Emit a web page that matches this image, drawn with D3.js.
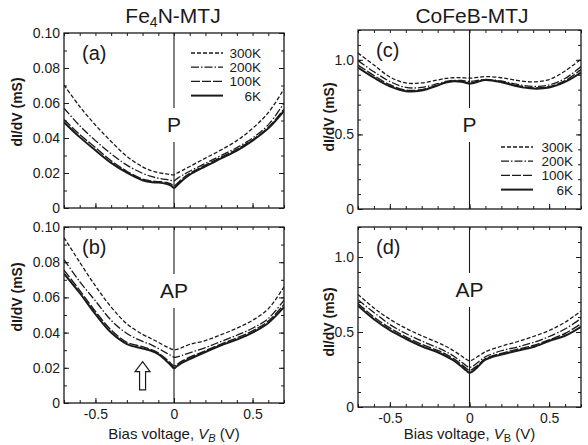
<!DOCTYPE html>
<html>
<head>
<meta charset="utf-8">
<script src="https://cdn.jsdelivr.net/npm/d3@7"></script>
<style>
  body { margin: 0; background: #fff; }
  svg { display: block; }
</style>
</head>
<body>
<svg id="chart" width="588" height="445"></svg>
<script>
// === Data ===
const bias = [-0.7, -0.6, -0.5, -0.4, -0.3, -0.2, -0.15, -0.1, -0.05, -0.02, 0,
              0.02, 0.05, 0.1, 0.2, 0.3, 0.4, 0.5, 0.6, 0.7];
const temps = ["300K", "200K", "100K", "6K"];

// Fe4N-MTJ, parallel state (mS); rows follow temps
const fe4nP = [
  [0.0703, 0.058, 0.0474, 0.038, 0.0295, 0.0235, 0.0215, 0.0202, 0.0195, 0.0191, 0.0189,
   0.0200, 0.0213, 0.0237, 0.0285, 0.0332, 0.0385, 0.0455, 0.0545, 0.068],
  [0.057, 0.047, 0.0385, 0.031, 0.0245, 0.0198, 0.0182, 0.017, 0.0163, 0.0158, 0.0155,
   0.0168, 0.0185, 0.0210, 0.0255, 0.0300, 0.0345, 0.0400, 0.0475, 0.060],
  [0.0505, 0.042, 0.0345, 0.027, 0.021, 0.0165, 0.0155, 0.0151, 0.0146, 0.0138, 0.0126,
   0.0140, 0.0165, 0.0198, 0.0245, 0.0290, 0.0335, 0.0390, 0.0460, 0.0565],
  [0.049, 0.0405, 0.033, 0.0258, 0.0202, 0.0158, 0.0148, 0.0145, 0.0138, 0.0128, 0.0115,
   0.0130, 0.0155, 0.0190, 0.0238, 0.0283, 0.0328, 0.0385, 0.0455, 0.0555]
];

// Fe4N-MTJ, antiparallel state
const fe4nAP = [
  [0.094, 0.080, 0.0665, 0.0545, 0.045, 0.039, 0.0368, 0.0345, 0.032, 0.0308, 0.0302,
   0.0305, 0.0315, 0.0333, 0.0355, 0.0388, 0.0425, 0.0470, 0.0535, 0.066],
  [0.0815, 0.069, 0.058, 0.047, 0.0395, 0.035, 0.0333, 0.031, 0.0285, 0.027, 0.026,
   0.0262, 0.0270, 0.0285, 0.0315, 0.0350, 0.0385, 0.0425, 0.0480, 0.0585],
  [0.0755, 0.064, 0.052, 0.0415, 0.0345, 0.032, 0.0305, 0.0285, 0.025, 0.0225, 0.021,
   0.0220, 0.0238, 0.0260, 0.0297, 0.0335, 0.0370, 0.0410, 0.0465, 0.056],
  [0.0735, 0.0625, 0.0505, 0.040, 0.0335, 0.031, 0.0298, 0.0278, 0.024, 0.0215, 0.0197,
   0.0210, 0.0228, 0.0250, 0.0290, 0.0328, 0.0360, 0.0400, 0.0455, 0.0545]
];

// CoFeB-MTJ, parallel state
const cofebP = [
  [1.045, 0.965, 0.885, 0.845, 0.845, 0.865, 0.875, 0.880, 0.880, 0.878, 0.877,
   0.878, 0.882, 0.888, 0.880, 0.862, 0.852, 0.868, 0.925, 1.005],
  [0.995, 0.920, 0.855, 0.815, 0.815, 0.840, 0.855, 0.862, 0.862, 0.858, 0.855,
   0.857, 0.862, 0.868, 0.858, 0.835, 0.822, 0.832, 0.875, 0.955],
  [0.965, 0.895, 0.833, 0.797, 0.800, 0.830, 0.848, 0.858, 0.855, 0.848, 0.843,
   0.846, 0.855, 0.866, 0.852, 0.826, 0.812, 0.820, 0.860, 0.935],
  [0.948, 0.880, 0.822, 0.790, 0.795, 0.828, 0.847, 0.857, 0.853, 0.845, 0.840,
   0.843, 0.852, 0.864, 0.850, 0.822, 0.807, 0.814, 0.852, 0.915]
];

// CoFeB-MTJ, antiparallel state
const cofebAP = [
  [0.750, 0.660, 0.585, 0.525, 0.475, 0.430, 0.405, 0.375, 0.340, 0.318, 0.308,
   0.315, 0.335, 0.368, 0.405, 0.435, 0.470, 0.510, 0.565, 0.640],
  [0.715, 0.630, 0.550, 0.490, 0.440, 0.395, 0.370, 0.340, 0.300, 0.275, 0.265,
   0.272, 0.295, 0.335, 0.375, 0.400, 0.430, 0.470, 0.520, 0.590],
  [0.690, 0.600, 0.527, 0.468, 0.418, 0.377, 0.352, 0.322, 0.283, 0.257, 0.245,
   0.253, 0.277, 0.322, 0.358, 0.385, 0.410, 0.448, 0.490, 0.555],
  [0.675, 0.585, 0.512, 0.455, 0.405, 0.365, 0.340, 0.310, 0.270, 0.243, 0.228,
   0.238, 0.265, 0.315, 0.350, 0.375, 0.400, 0.440, 0.475, 0.535]
];

const xMajor = [-0.5, 0, 0.5];
const xMinor = d3.range(-7, 8).map(i => i / 10);
const yMajorFe = [0, 0.02, 0.04, 0.06, 0.08, 0.10];
const yMinorFe = d3.range(0, 11).map(i => i / 100);
const yMajorCo = [0, 0.5, 1.0];
const yMinorCo = d3.range(0, 13).map(i => i / 10);

// arrow in panel (b) marking the shoulder
const arrowBias = -0.2, arrowTip = 0.0235, arrowBase = 0.0075;

// === Styles ===
const FONT = '"Liberation Sans", Arial, Helvetica, sans-serif';
const INK = "#1a1a1a";
const lineStyle = [
  { dash: "4,2",         width: 1.3 },
  { dash: "8,2,1.5,2",   width: 1.3 },
  { dash: "9,2",         width: 1.4 },
  { dash: null,          width: 2.0 }
];

const svg = d3.select("#chart");

const panels = [
  { x0: 64,  x1: 284, y0: 33,  y1: 208, yMax: 0.1, data: fe4nP,  yMaj: yMajorFe, yMin: yMinorFe,
    fmt: d => d === 0 ? "0" : d.toFixed(2), letter: "(a)", state: "P",  stateY: 99,
    legend: { x0: 191, x1: 223, tx: 261, y: 53 }, showX: false, labelY: 112, ylx: 22, italicSub: true },
  { x0: 64,  x1: 284, y0: 227, y1: 403, yMax: 0.1, data: fe4nAP, yMaj: yMajorFe, yMin: yMinorFe,
    fmt: d => d === 0 ? "0" : d.toFixed(2), letter: "(b)", state: "AP", stateY: 71,
    legend: null, showX: true, labelY: 297, ylx: 22, italicSub: true, arrow: true },
  { x0: 358, x1: 581, y0: 30,  y1: 209, yMax: 1.2, data: cofebP, yMaj: yMajorCo, yMin: yMinorCo,
    fmt: d => d === 0 ? "0" : d.toFixed(1), letter: "(c)", state: "P",  stateY: 102,
    legend: { x0: 501, x1: 533, tx: 573, y: 147 }, showX: false, labelY: 117, ylx: 334, italicSub: false },
  { x0: 358, x1: 581, y0: 227, y1: 407, yMax: 1.2, data: cofebAP, yMaj: yMajorCo, yMin: yMinorCo,
    fmt: d => d === 0 ? "0" : d.toFixed(1), letter: "(d)", state: "AP", stateY: 70,
    legend: null, showX: true, labelY: 322, ylx: 334, italicSub: false }
];

function styleAxis(g) {
  g.select(".domain").remove();
  g.attr("font-size", 14).attr("font-family", FONT);
  g.selectAll("line").attr("stroke", INK).attr("stroke-width", 1);
  g.selectAll("text").attr("fill", INK);
}

panels.forEach((p, pi) => {
  const x = d3.scaleLinear().domain([-0.7, 0.7]).range([p.x0, p.x1]);
  const y = d3.scaleLinear().domain([0, p.yMax]).range([p.y1, p.y0]);
  const g = svg.append("g");

  const clipId = "clip" + pi;
  svg.append("clipPath").attr("id", clipId)
    .append("rect").attr("x", p.x0).attr("y", p.y0)
    .attr("width", p.x1 - p.x0).attr("height", p.y1 - p.y0);

  // zero-bias line
  g.append("line")
    .attr("x1", x(0)).attr("x2", x(0)).attr("y1", p.y0).attr("y2", p.y1)
    .attr("stroke", INK).attr("stroke-width", 1.1);

  // state label with white backing that breaks the zero line
  const sy = p.y0 + p.stateY;
  const sw = p.state === "P" ? 22 : 38;
  g.append("rect").attr("x", x(0) - sw / 2).attr("y", sy - 24)
    .attr("width", sw).attr("height", 34).attr("fill", "#fff");
  g.append("text").attr("x", x(0)).attr("y", sy)
    .attr("text-anchor", "middle").attr("font-family", FONT).attr("font-size", 21)
    .attr("fill", INK).text(p.state);

  // curves
  const line = d3.line().x((d, i) => x(bias[i])).y(d => y(d)).curve(d3.curveCatmullRom.alpha(0.5));
  const cg = g.append("g").attr("clip-path", `url(#${clipId})`);
  p.data.forEach((s, k) => {
    cg.append("path").datum(s)
      .attr("d", line)
      .attr("fill", "none").attr("stroke", INK)
      .attr("stroke-width", lineStyle[k].width)
      .attr("stroke-dasharray", lineStyle[k].dash);
  });

  // axes: inward ticks on all four sides
  g.append("g").attr("transform", `translate(0,${p.y1})`)
    .call(d3.axisBottom(x).tickValues(xMinor).tickSize(-3).tickFormat("")).call(styleAxis);
  g.append("g").attr("transform", `translate(0,${p.y1})`)
    .call(d3.axisBottom(x).tickValues(xMajor).tickSize(-5).tickPadding(6)
      .tickFormat(p.showX ? (d => d === 0 ? "0" : d.toFixed(1)) : "")).call(styleAxis);
  g.append("g").attr("transform", `translate(0,${p.y0})`)
    .call(d3.axisTop(x).tickValues(xMinor).tickSize(-3).tickFormat("")).call(styleAxis);
  g.append("g").attr("transform", `translate(${p.x0},0)`)
    .call(d3.axisLeft(y).tickValues(p.yMin).tickSize(-3).tickFormat("")).call(styleAxis);
  g.append("g").attr("transform", `translate(${p.x0},0)`)
    .call(d3.axisLeft(y).tickValues(p.yMaj).tickSize(-5).tickPadding(4).tickFormat(p.fmt)).call(styleAxis);
  g.append("g").attr("transform", `translate(${p.x1},0)`)
    .call(d3.axisRight(y).tickValues(p.yMin).tickSize(-3).tickFormat("")).call(styleAxis);
  g.append("g").attr("transform", `translate(${p.x1},0)`)
    .call(d3.axisRight(y).tickValues(p.yMaj).tickSize(-5).tickFormat("")).call(styleAxis);

  // frame
  g.append("rect").attr("x", p.x0).attr("y", p.y0)
    .attr("width", p.x1 - p.x0).attr("height", p.y1 - p.y0)
    .attr("fill", "none").attr("stroke", INK).attr("stroke-width", 1.3);

  // panel letter
  g.append("text").attr("x", p.x0 + 18).attr("y", p.y0 + 27)
    .attr("font-family", FONT).attr("font-size", 20).attr("fill", INK).text(p.letter);

  // y label
  g.append("text")
    .attr("transform", `translate(${p.ylx},${p.labelY}) rotate(-90)`)
    .attr("text-anchor", "middle").attr("font-family", FONT).attr("font-size", 14)
    .attr("font-weight", "bold").attr("fill", INK).text("dI/dV (mS)");

  // x label
  if (p.showX) {
    const t = g.append("text").attr("x", (p.x0 + p.x1) / 2).attr("y", 439)
      .attr("text-anchor", "middle").attr("font-family", FONT).attr("font-size", 15).attr("fill", INK);
    t.append("tspan").text("Bias voltage, ");
    t.append("tspan").attr("font-style", "italic").text("V");
    t.append("tspan").attr("font-style", p.italicSub ? "italic" : "normal")
      .attr("font-size", 11).attr("dy", 3).text("B");
    t.append("tspan").attr("dy", -3).text(" (V)");
  }

  // legend
  if (p.legend) {
    temps.forEach((name, k) => {
      const ly = p.legend.y + k * 14.2;
      g.append("line").attr("x1", p.legend.x0).attr("x2", p.legend.x1)
        .attr("y1", ly).attr("y2", ly)
        .attr("stroke", INK).attr("stroke-width", lineStyle[k].width)
        .attr("stroke-dasharray", lineStyle[k].dash);
      g.append("text").attr("x", p.legend.tx).attr("y", ly + 5)
        .attr("text-anchor", "end").attr("font-family", FONT).attr("font-size", 13.5)
        .attr("fill", INK).text(name);
    });
  }

  // hollow arrow
  if (p.arrow) {
    const ax = x(arrowBias), yt = y(arrowTip), yb = y(arrowBase);
    const headH = 10, headW = 7.5, shaftW = 3;
    const pts = [[ax, yt], [ax + headW, yt + headH], [ax + shaftW, yt + headH], [ax + shaftW, yb],
                 [ax - shaftW, yb], [ax - shaftW, yt + headH], [ax - headW, yt + headH]];
    g.append("path").attr("d", d3.line()(pts) + "Z")
      .attr("fill", "#fff").attr("stroke", INK).attr("stroke-width", 1.2);
  }
});

// column titles
const t1 = svg.append("text").attr("x", 173).attr("y", 23).attr("text-anchor", "middle")
  .attr("font-family", FONT).attr("font-size", 21).attr("fill", INK);
t1.append("tspan").text("Fe");
t1.append("tspan").attr("font-size", 14).attr("dy", 4).text("4");
t1.append("tspan").attr("dy", -4).text("N-MTJ");

svg.append("text").attr("x", 472).attr("y", 23).attr("text-anchor", "middle")
  .attr("font-family", FONT).attr("font-size", 21).attr("fill", INK).text("CoFeB-MTJ");
</script>
</body>
</html>
